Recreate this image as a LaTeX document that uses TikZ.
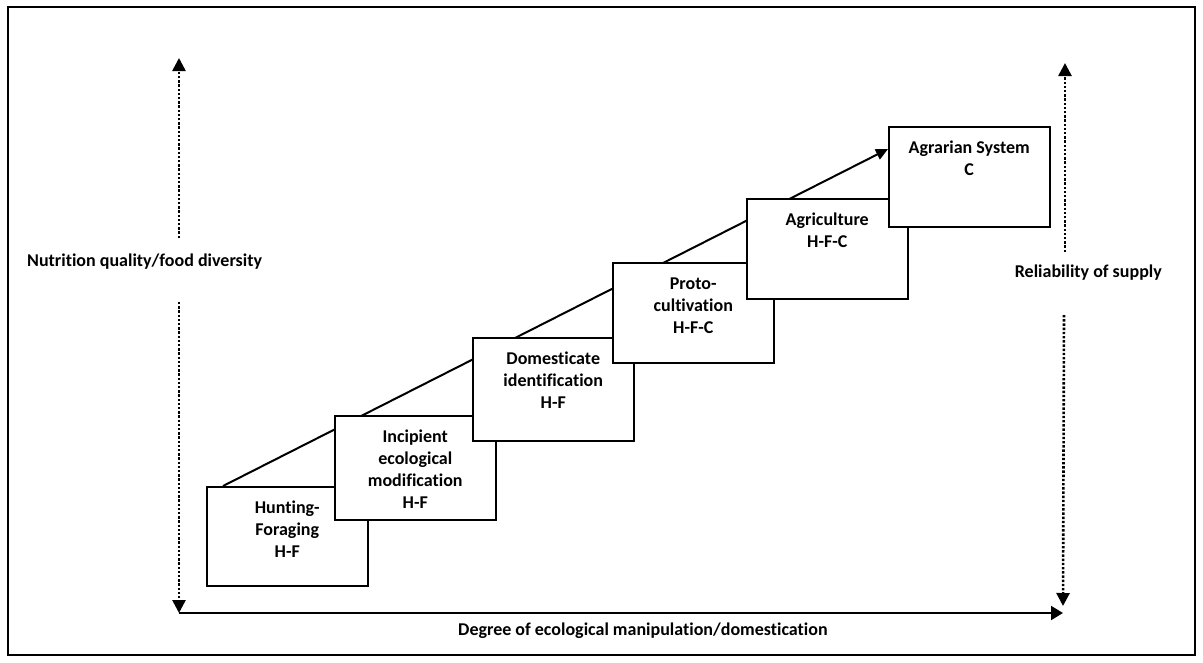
\documentclass[tikz,border=0pt]{standalone}
\usepackage{fontspec}
\setmainfont{Carlito}[RawFeature=-liga]
\usetikzlibrary{arrows.meta,calc}
\newcommand{\stagetext}[2]{\parbox[c][#1pt][t]{161pt}{\centering\rule{0pt}{27pt}#2}}
\begin{document}
\begin{tikzpicture}[x=1pt,y=-1pt,
  lbl/.style={font=\fontsize{18}{22}\selectfont\bfseries, inner sep=0pt},
  stage/.style={draw, line width=1.5pt, fill=white, inner sep=0pt, anchor=north west,
    font=\fontsize{18}{22}\selectfont\bfseries},
  axis/.style={line width=2pt, -{Triangle[width=14pt,length=12pt]}},
  diag/.style={line width=2pt, -{Triangle[width=11pt,length=12pt]}},
  dots/.style={line width=2.6pt, dash pattern=on 2.4pt off 1.8pt, line cap=butt,
    -{Triangle[width=13pt,length=13pt]}},
]
\useasboundingbox (0,0) rectangle (1203,662);
\draw[line width=2.5pt] (8,7) rectangle (1195,655);

% axes coordinates
\coordinate (O) at (179,613);
\coordinate (Xend) at (1063,613);
\coordinate (Ltop) at (179,58);
\coordinate (L1) at (179,238);
\coordinate (L2) at (179,302);
\coordinate (Rtop) at (1065,63);
\coordinate (R1) at (1065,252);
\coordinate (R2) at (1064,315);
\coordinate (Rbot) at (1063,606);

\draw[dots] (L1) -- (Ltop);
\draw[dots] (L2) -- (O);
\draw[dots] (R1) -- (Rtop);
\draw[dots] (R2) -- (Rbot);
\draw[axis] (O) -- (Xend);

\node[lbl, anchor=west] (nut) at (27,262) {Nutrition quality/food diversity};
\node[lbl, anchor=east] (rel) at (1162,273) {Reliability of supply};
\node[lbl, anchor=west] (deg) at (458,631) {Degree of ecological manipulation/domestication};

% diagonal
\coordinate (d0) at (223,486);
\coordinate (d1) at (888,149);
\draw[diag] (d0) -- (d1);

% stages
\node[stage] (s1) at (206,486) {\stagetext{99}{Hunting-\\Foraging\\H-F}};
\node[stage] (s2) at (334,415) {\stagetext{104}{Incipient\\ecological\\modification\\H-F}};
\node[stage] (s3) at (472,337) {\stagetext{103}{Domesticate\\identification\\H-F}};
\node[stage] (s4) at (612,262) {\stagetext{100}{Proto-\\cultivation\\H-F-C}};
\node[stage] (s5) at (746,198) {\stagetext{100}{Agriculture\\H-F-C}};
\node[stage] (s6) at (888,126) {\stagetext{100}{Agrarian System\\C}};
\end{tikzpicture}
\end{document}
